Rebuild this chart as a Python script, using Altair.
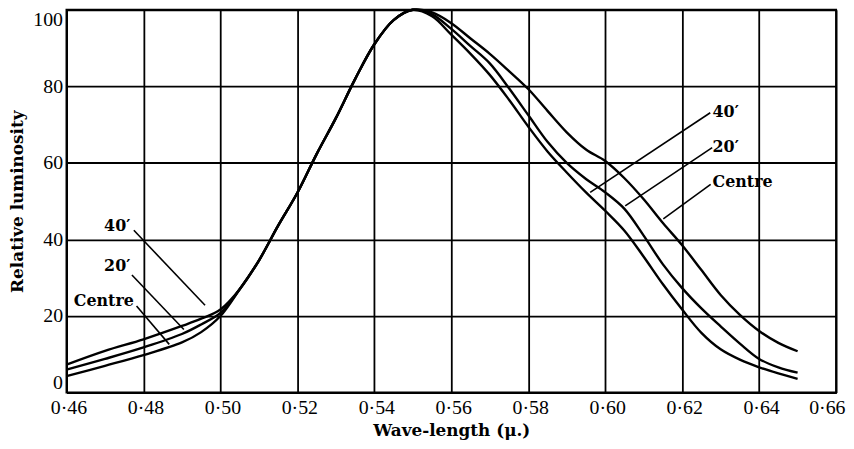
import altair as alt
import pandas as pd

# ---- data ----
wavelength = [0.46, 0.47, 0.48, 0.49, 0.495, 0.50, 0.505, 0.51, 0.515, 0.52, 0.525,
              0.53, 0.535, 0.54, 0.545, 0.55, 0.555, 0.56, 0.565, 0.57, 0.575, 0.58,
              0.585, 0.59, 0.595, 0.60, 0.605, 0.61, 0.615, 0.62, 0.625, 0.63, 0.635,
              0.64, 0.645, 0.65]

centre = [4.3, 7.0, 9.8, 13.1, 15.8, 20.0, 27.0, 34.5, 43.6, 52.2, 62.3,
          71.7, 81.9, 91.0, 97.3, 100.0, 99.3, 96.5, 92.5, 88.5, 84.0, 79.3,
          73.6, 68.0, 63.5, 60.5, 56.0, 50.5, 44.3, 38.5, 32.0, 25.5, 20.3,
          16.1, 13.0, 10.8]

min20 = [6.0, 8.8, 11.8, 15.3, 17.8, 20.8, 27.0, 34.5, 43.6, 52.2, 62.3,
         71.7, 81.9, 91.0, 97.3, 100.0, 98.8, 95.0, 90.5, 86.0, 79.5, 72.5,
         65.5, 60.0, 55.8, 52.3, 48.0, 41.0, 33.5, 27.3, 22.0, 17.3, 12.8,
         8.8, 6.6, 5.2]

min40 = [7.3, 10.9, 13.9, 17.4, 19.3, 21.7, 27.0, 34.5, 43.6, 52.2, 62.3,
         71.7, 81.9, 91.0, 97.3, 100.0, 98.3, 93.5, 88.5, 83.0, 76.5, 69.5,
         63.0, 57.5, 52.3, 47.5, 42.3, 35.5, 28.3, 21.7, 15.6, 11.3, 8.6,
         6.6, 5.0, 3.6]

series_names = ["Centre", "20\u2032", "40\u2032"]

x_ticks = [0.46, 0.48, 0.50, 0.52, 0.54, 0.56, 0.58, 0.60, 0.62, 0.64, 0.66]
y_ticks = [0, 20, 40, 60, 80, 100]

# leader lines (start x, start y, end x, end y)
ptr_x = [0.4775, 0.4770, 0.4782, 0.5961, 0.6052, 0.6151]
ptr_y = [42.4, 30.7, 22.6, 52.3, 48.8, 45.4]
ptr_x2 = [0.4960, 0.4905, 0.4867, 0.6273, 0.6278, 0.6274]
ptr_y2 = [22.8, 16.5, 12.6, 73.1, 64.0, 54.4]

left_label_text = ["40\u2032", "20\u2032", "Centre"]
left_label_x = [0.4766, 0.4766, 0.4775]
left_label_y = [43.5, 33.0, 24.0]

right_label_text = ["40\u2032", "20\u2032", "Centre"]
right_label_x = [0.6279, 0.6279, 0.6279]
right_label_y = [73.4, 64.2, 54.9]

# ---- build tables ----
rows = []
for name, ys in zip(series_names, [centre, min20, min40]):
    for x, y in zip(wavelength, ys):
        rows.append({"wl": x, "lum": y, "series": name})
df = pd.DataFrame(rows)

ptr_df = pd.DataFrame({"x": ptr_x, "y": ptr_y, "x2": ptr_x2, "y2": ptr_y2})
left_df = pd.DataFrame({"x": left_label_x, "y": left_label_y, "t": left_label_text})
right_df = pd.DataFrame({"x": right_label_x, "y": right_label_y, "t": right_label_text})

x_scale = alt.Scale(domain=[0.46, 0.66], nice=False, zero=False)
y_scale = alt.Scale(domain=[0, 100], nice=False, zero=False)

x_axis = alt.Axis(
    values=x_ticks,
    title="Wave-length (\u03bc.)",
    labelExpr="replace(format(datum.value, '.2f'), '.', '\u00b7')",
    grid=True,
    ticks=False,
    labelPadding=5,
    labelFlush=False,
    labelAlign={"condition": {"test": "datum.value > 0.655", "value": "right"}, "value": "center"},
    labelOffset={"condition": {"test": "datum.value > 0.655", "value": 9}, "value": 2},
    labelFont="Liberation Serif",
    labelFontSize=20,
    titleFont="DejaVu Serif",
    titleFontSize=17,
    titleFontWeight="bold",
    titlePadding=5,
)
y_axis = alt.Axis(
    values=y_ticks,
    title="Relative luminosity",
    grid=True,
    ticks=False,
    labelPadding=4,
    labelFlush=True,
    labelFont="Liberation Serif",
    labelFontSize=20,
    titleFont="DejaVu Serif",
    titleFontSize=17,
    titleFontWeight="bold",
    titlePadding=6,
)

lines = alt.Chart(df).mark_line(
    color="black", strokeWidth=2.4, interpolate="catmull-rom"
).encode(
    x=alt.X("wl:Q", scale=x_scale, axis=x_axis),
    y=alt.Y("lum:Q", scale=y_scale, axis=y_axis),
    detail="series:N",
)

pointers = alt.Chart(ptr_df).mark_rule(color="black", strokeWidth=1.6).encode(
    x=alt.X("x:Q", scale=x_scale),
    y=alt.Y("y:Q", scale=y_scale),
    x2="x2:Q",
    y2="y2:Q",
)

left_labels = alt.Chart(left_df).mark_text(
    align="right", baseline="middle", font="DejaVu Serif", fontSize=16,
    fontWeight="bold", color="black"
).encode(
    x=alt.X("x:Q", scale=x_scale),
    y=alt.Y("y:Q", scale=y_scale),
    text="t:N",
)

right_labels = alt.Chart(right_df).mark_text(
    align="left", baseline="middle", font="DejaVu Serif", fontSize=16,
    fontWeight="bold", color="black"
).encode(
    x=alt.X("x:Q", scale=x_scale),
    y=alt.Y("y:Q", scale=y_scale),
    text="t:N",
)

chart = alt.layer(lines, pointers, left_labels, right_labels).properties(
    width=776,
    height=386,
    autosize=alt.AutoSizeParams(type="none"),
    padding={"left": 59, "top": 0, "right": 10, "bottom": 47},
    background="white",
).configure_view(
    stroke="black", strokeWidth=2
).configure_axis(
    gridColor="black",
    gridWidth=1.8,
    gridOpacity=1,
    domainColor="black",
    domainWidth=2,
    labelColor="black",
    titleColor="black",
)

chart.save("out.html", embed_options={"renderer": "svg", "actions": False})
